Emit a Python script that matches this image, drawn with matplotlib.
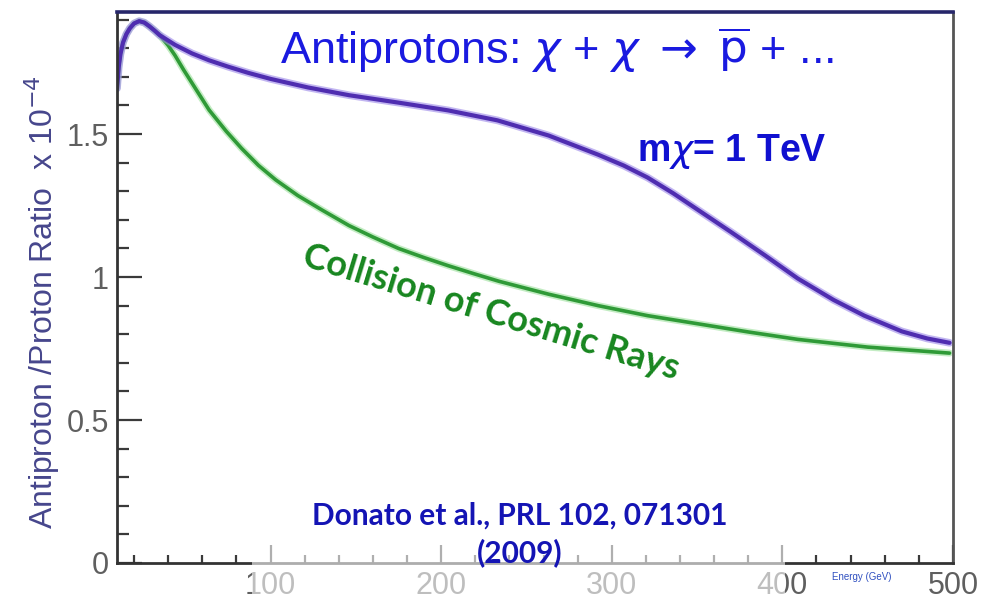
import matplotlib.pyplot as plt
import matplotlib.patheffects as pe
from matplotlib.patches import Rectangle
from matplotlib.ticker import MultipleLocator

# energia (GeV) og antiproton/proton-forhold (x 1e-4), lest av figuren
E_dm = [10, 11, 12, 13.5, 15.5, 17.5, 20, 23, 26, 29, 32, 35, 44, 54, 64, 75,
        87, 100, 122, 146, 175, 204, 233, 263, 292, 307, 321, 336, 350, 370,
        390, 409, 430, 448, 470, 485, 498]
ratio_dm = [1.66, 1.735, 1.78, 1.82, 1.85, 1.87, 1.887, 1.895, 1.89, 1.877,
            1.862, 1.846, 1.812, 1.782, 1.758, 1.736, 1.714, 1.693, 1.663,
            1.636, 1.61, 1.583, 1.548, 1.495, 1.428, 1.39, 1.348, 1.293, 1.237,
            1.157, 1.075, 0.995, 0.92, 0.865, 0.81, 0.785, 0.77]

E_bg = [10, 11, 12, 13.5, 15.5, 17.5, 20, 23, 26, 29, 32, 35, 40, 44, 49, 54,
        64, 74, 83, 93, 103, 116, 130, 146, 160, 175, 190, 204, 219, 234, 263,
        292, 321, 350, 380, 409, 450, 498]
ratio_bg = [1.66, 1.735, 1.78, 1.82, 1.85, 1.87, 1.887, 1.895, 1.89, 1.877,
            1.862, 1.846, 1.81, 1.775, 1.725, 1.678, 1.584, 1.51, 1.45, 1.39,
            1.34, 1.285, 1.235, 1.18, 1.14, 1.10, 1.068, 1.04, 1.012, 0.985,
            0.94, 0.90, 0.865, 0.837, 0.808, 0.782, 0.755, 0.734]

fig = plt.figure(figsize=(9.96, 6.0), dpi=100)
ax = fig.add_axes([0.1175, 0.0617, 0.8393, 0.9183])

ax.plot(E_bg, ratio_bg, color="#2f9a37", lw=2.6, solid_capstyle="round",
        path_effects=[pe.Stroke(linewidth=5, foreground="#9be09b", alpha=0.6), pe.Normal()])
ax.plot(E_dm, ratio_dm, color="#4f2db0", lw=3.0, solid_capstyle="round",
        path_effects=[pe.Stroke(linewidth=5.5, foreground="#9a86e8", alpha=0.6), pe.Normal()])

ax.set_xlim(10, 500)
ax.set_ylim(0, 1.927)
ax.xaxis.set_major_locator(MultipleLocator(100))
ax.xaxis.set_minor_locator(MultipleLocator(20))
ax.yaxis.set_major_locator(MultipleLocator(0.5))
ax.yaxis.set_minor_locator(MultipleLocator(0.1))
ax.yaxis.set_major_formatter(plt.FuncFormatter(lambda v, p: "%g" % v))

ax.tick_params(axis="both", which="both", direction="in", color="#3a3a3a",
               width=1.6, labelsize=22, labelcolor="#5f5f5f")
ax.tick_params(axis="y", which="major", length=18, pad=6)
ax.tick_params(axis="y", which="minor", length=8.5)
ax.tick_params(axis="x", which="major", length=13, pad=6)
ax.tick_params(axis="x", which="minor", length=6)
for lab in ax.get_xticklabels() + ax.get_yticklabels():
    lab.set_family("Liberation Sans")

ax.spines["top"].set_color("#26266a")
ax.spines["top"].set_linewidth(2.6)
ax.spines["right"].set_color("#555555")
ax.spines["right"].set_linewidth(2.0)
ax.spines["left"].set_color("#333333")
ax.spines["left"].set_linewidth(2.0)
ax.spines["bottom"].set_color("#333333")
ax.spines["bottom"].set_linewidth(2.0)

ax.set_ylabel("Antiproton /Proton Ratio  x 10$^{-4}$", fontsize=23,
              color="#46468c", family="Liberation Sans")
ax.yaxis.set_label_coords(-0.066, 0.474)
ax.set_xlabel("Energy (GeV)", fontsize=7, color="#3050c0", family="Liberation Sans")
ax.xaxis.set_label_coords(0.891, -0.016)

ax.text(0.526, 0.931, r"Antiprotons: $\chi$ + $\chi$ $\rightarrow$ $\overline{\mathrm{p}}$ + ...",
        transform=ax.transAxes, ha="center", va="center", fontsize=32.5,
        color="#1a1ae0", family="Liberation Sans")
ax.text(0.736, 0.746, r"m$\chi$= 1 TeV", transform=ax.transAxes, ha="center",
        va="center", fontsize=27, color="#1010d0", fontweight="bold",
        family="Liberation Sans")
ax.text(0.447, 0.454, "Collision of Cosmic Rays", transform=ax.transAxes,
        ha="center", va="center", rotation=-17, fontsize=26, color="#17861f",
        fontweight="bold", family="Lato")

# halvgjennomsiktig hvit boks bak referansen (gjor aksen blek der)
fig.patches.append(Rectangle((0.253, 0.0), 0.535, 0.19, transform=fig.transFigure,
                             facecolor="white", alpha=0.6, edgecolor="none", zorder=2))
fig.text(0.522, 0.11, "Donato et al., PRL 102, 071301\n(2009)", ha="center",
         va="center", fontsize=21.5, color="#1414b4", fontweight="bold",
         family="Lato", linespacing=1.35, zorder=3)

fig.savefig("out.png", dpi=100)
